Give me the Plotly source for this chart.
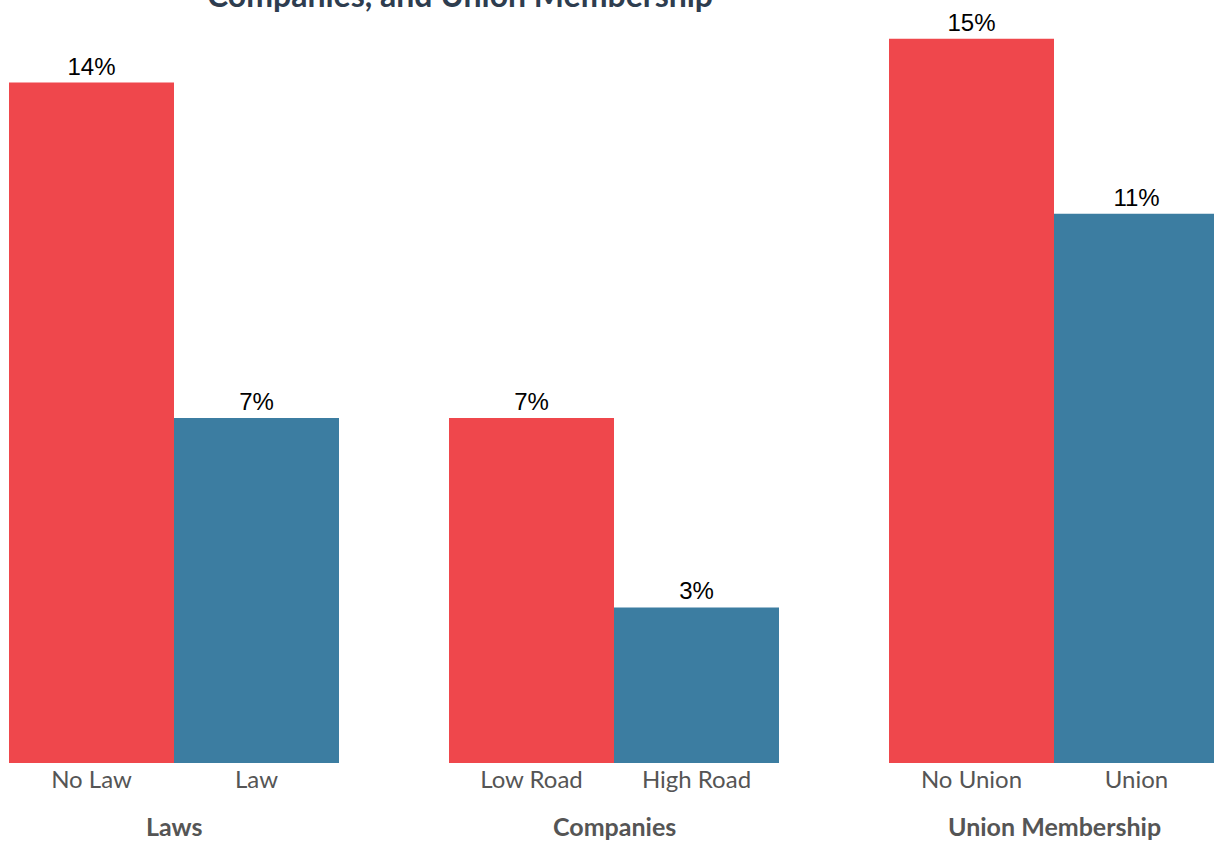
import plotly.graph_objects as go

groups = ["Laws", "Companies", "Union Membership"]
bar_labels = ["No Law", "Law", "Low Road", "High Road", "No Union", "Union"]
worse_values = [14.0, 7.1, 14.9]   # No Law, Low Road, No Union
better_values = [7.1, 3.2, 11.3]   # Law, High Road, Union
title_text = "Companies, and Union Membership"

RED = "#EF474C"
BLUE = "#3C7DA1"
OFF = 0.1875

fig = go.Figure()
xs = list(range(len(groups)))
fig.add_trace(go.Bar(x=xs, y=worse_values, marker_color=RED, marker_line_width=0,
                     offsetgroup="a", texttemplate="%{y:.0f}%", textposition="outside",
                     textfont=dict(family="Liberation Sans, Arial", size=24, color="#000"),
                     cliponaxis=False, hoverinfo="skip"))
fig.add_trace(go.Bar(x=xs, y=better_values, marker_color=BLUE, marker_line_width=0,
                     offsetgroup="b", texttemplate="%{y:.0f}%", textposition="outside",
                     textfont=dict(family="Liberation Sans, Arial", size=24, color="#000"),
                     cliponaxis=False, hoverinfo="skip"))

tickvals = []
for i in xs:
    tickvals += [i - OFF, i + OFF]

fig.update_layout(
    width=1214, height=841,
    margin=dict(l=9, r=0, t=30, b=78),
    plot_bgcolor="white", paper_bgcolor="white",
    barmode="group", bargap=0.25, bargroupgap=0,
    showlegend=False,
    xaxis=dict(range=[-0.375, -0.375 + 1205 / 440], tickvals=tickvals, ticktext=bar_labels,
               showgrid=False, zeroline=False, showline=False, ticks="",
               tickfont=dict(family="Lato, Open Sans", size=24, color="#555555")),
    yaxis=dict(range=[0, 15.08], visible=False),
)

for i, g in enumerate(groups):
    fig.add_annotation(x=i, y=0, xref="x", yref="paper", yshift=-63, yanchor="middle",
                       text="<b>%s</b>" % g, showarrow=False,
                       font=dict(family="Lato, Open Sans", size=25, color="#555555"))

fig.add_annotation(x=(460 - 9) / 1205, xref="paper", y=1, yref="paper", yshift=36,
                   yanchor="middle", text="<b>%s</b>" % title_text, showarrow=False,
                   font=dict(family="Lato, Open Sans", size=32, color="#2E3D4F"))

fig.write_html("out.html", config={"displayModeBar": False},
               post_script="document.body.style.margin='0';document.body.style.padding='0';document.body.style.overflow='hidden';")
